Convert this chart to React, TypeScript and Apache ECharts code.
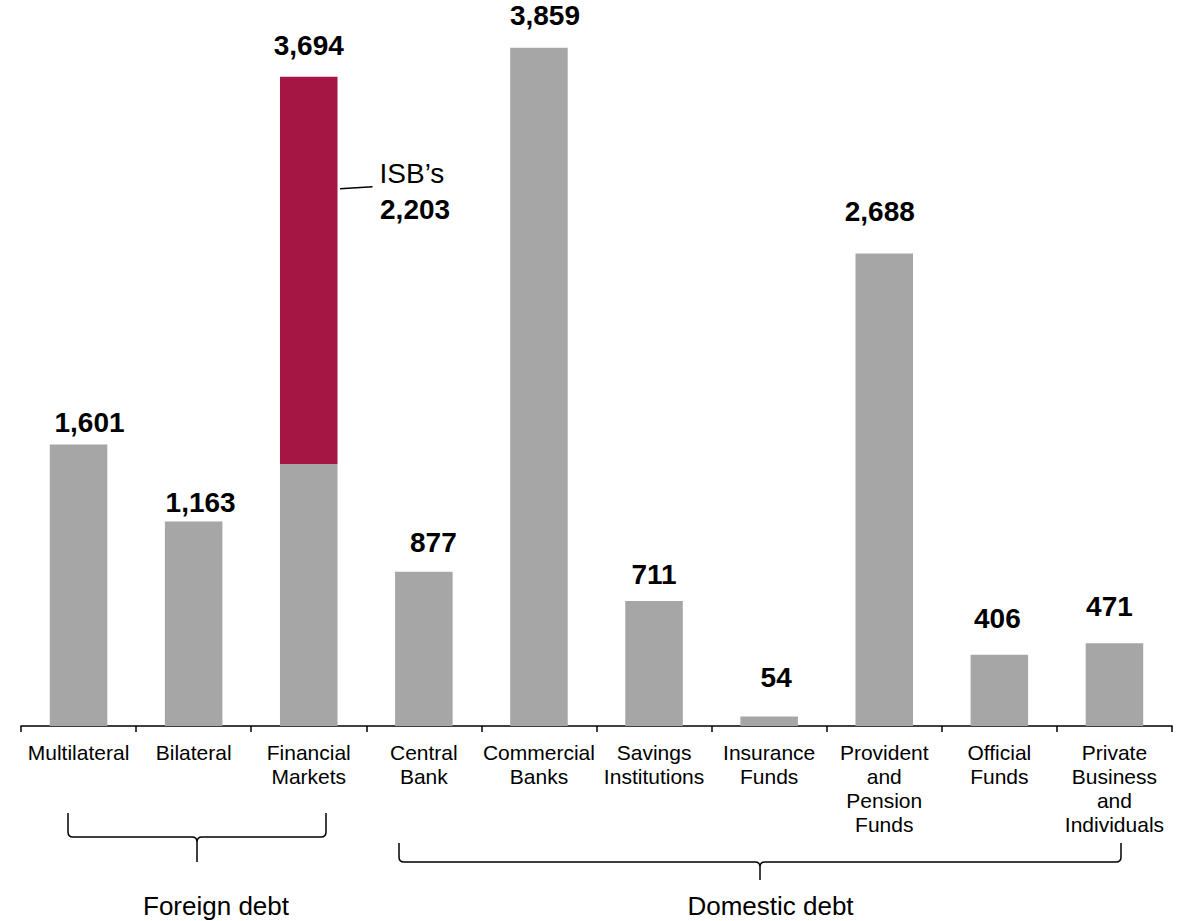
import React, { useEffect, useRef } from "react";
import * as echarts from "echarts";

// Government debt by holder
const categories = [
  "Multilateral",
  "Bilateral",
  "Financial Markets",
  "Central Bank",
  "Commercial Banks",
  "Savings Institutions",
  "Insurance Funds",
  "Provident and Pension Funds",
  "Official Funds",
  "Private Business and Individuals",
];
const totalDebt = [1601, 1163, 3694, 877, 3859, 711, 54, 2688, 406, 471];
const isbDebt = [0, 0, 2203, 0, 0, 0, 0, 0, 0, 0];
const isbLabel = "ISB\u2019s";
const groupNames = ["Foreign debt", "Domestic debt"];

// hand-placed nudges for the value labels above each bar [dx, dy]
const valueLabelNudge: [number, number][] = [
  [11, -8.5],
  [7, -5],
  [0, -17],
  [9.5, -15],
  [6, -18.5],
  [0, -12.5],
  [7, -25],
  [-4.5, -28],
  [-2, -22],
  [-5, -23],
];

const FONT = "Arial, 'Liberation Sans', Helvetica, sans-serif";
const GREY = "#A6A6A6";
const CRIMSON = "#A51645";

// curly brace path opening upward, tip pointing down
function bracePath(xL: number, xR: number, xM: number, yTop: number, yLine: number, yTip: number, r: number) {
  return [
    `M${xL},${yTop}`,
    `L${xL},${yLine - r}`,
    `Q${xL},${yLine} ${xL + r},${yLine}`,
    `L${xM - r},${yLine}`,
    `Q${xM},${yLine} ${xM},${yLine + r}`,
    `L${xM},${yTip}`,
    `M${xM},${yLine + r}`,
    `Q${xM},${yLine} ${xM + r},${yLine}`,
    `L${xR - r},${yLine}`,
    `Q${xR},${yLine} ${xR},${yLine - r}`,
    `L${xR},${yTop}`,
  ].join(" ");
}

echarts.graphic.registerShape(
  "foreignBrace",
  echarts.graphic.extendPath(bracePath(68, 326, 197, 813, 837, 862, 5), {})
);
echarts.graphic.registerShape(
  "domesticBrace",
  echarts.graphic.extendPath(bracePath(399, 1121, 760, 843, 862, 880, 5), {})
);

export default function App() {
  const ref = useRef<HTMLDivElement>(null);

  useEffect(() => {
    if (!ref.current) return;
    const chart = echarts.init(ref.current, undefined, { renderer: "svg" });

    const fmt = (v: number) => v.toLocaleString("en-US");

    const greyData = categories.map((_, i) => ({
      value: totalDebt[i] - isbDebt[i],
      label: {
        show: isbDebt[i] === 0,
        offset: valueLabelNudge[i],
      },
    }));
    const isbData = categories.map((_, i) =>
      isbDebt[i] > 0
        ? { value: isbDebt[i], label: { show: true, offset: valueLabelNudge[i] } }
        : { value: "-", label: { show: false } }
    );

    const valueLabel = {
      position: "top" as const,
      distance: 0,
      color: "#000",
      fontFamily: FONT,
      fontWeight: "bold" as const,
      fontSize: 28,
      lineHeight: 28,
      formatter: (p: any) => fmt(totalDebt[p.dataIndex]),
    };

    chart.setOption({
      animation: false,
      backgroundColor: "#fff",
      grid: { left: 21, right: 13, top: 23, bottom: 195 },
      xAxis: {
        type: "category",
        data: categories,
        axisLine: { lineStyle: { color: "#000", width: 1.5 } },
        axisTick: { show: true, length: 6, lineStyle: { color: "#000", width: 1.5 } },
        axisLabel: {
          interval: 0,
          margin: 14,
          color: "#000",
          fontFamily: FONT,
          fontSize: 21,
          lineHeight: 24,
          formatter: (v: string) => v.split(" ").join("\n"),
        },
      },
      yAxis: {
        type: "value",
        min: 0,
        max: 4000,
        show: false,
        splitLine: { show: false },
      },
      series: [
        {
          name: "Other holdings",
          type: "bar",
          stack: "debt",
          barWidth: "50%",
          itemStyle: { color: GREY },
          label: valueLabel,
          data: greyData,
        },
        {
          name: isbLabel,
          type: "bar",
          stack: "debt",
          barWidth: "50%",
          itemStyle: { color: CRIMSON },
          label: valueLabel,
          data: isbData,
        },
      ],
    });

    // annotation for the ISB segment and the foreign / domestic braces
    const isbIndex = isbDebt.findIndex((v) => v > 0);
    const cx = chart.convertToPixel({ xAxisIndex: 0 }, categories[isbIndex]) as number;
    const catWidth = (1185 - 21 - 13) / categories.length;
    const barRight = cx + catWidth / 4;

    chart.setOption({
      graphic: [
        {
          type: "line",
          shape: { x1: barRight + 2.5, y1: 188.7, x2: barRight + 35, y2: 186.7 },
          style: { stroke: "#000", lineWidth: 1.5 },
        },
        {
          type: "text",
          x: barRight + 42,
          y: 159.5,
          style: {
            text: isbLabel,
            fill: "#000",
            font: `28px ${FONT}`,
            textAlign: "left",
            textVerticalAlign: "top",
          },
        },
        {
          type: "text",
          x: barRight + 42.5,
          y: 195.5,
          style: {
            text: fmt(isbDebt[isbIndex]),
            fill: "#000",
            font: `bold 28px ${FONT}`,
            textAlign: "left",
            textVerticalAlign: "top",
          },
        },
        {
          type: "foreignBrace",
          style: { fill: "none", stroke: "#000", lineWidth: 1.5 },
        },
        {
          type: "domesticBrace",
          style: { fill: "none", stroke: "#000", lineWidth: 1.5 },
        },
        {
          type: "text",
          x: 216,
          y: 892.5,
          style: {
            text: groupNames[0],
            fill: "#000",
            font: `26px ${FONT}`,
            textAlign: "center",
            textVerticalAlign: "top",
          },
        },
        {
          type: "text",
          x: 770.5,
          y: 893,
          style: {
            text: groupNames[1],
            fill: "#000",
            font: `26px ${FONT}`,
            textAlign: "center",
            textVerticalAlign: "top",
          },
        },
      ],
    });

    return () => chart.dispose();
  }, []);

  return (
    <div
      ref={ref}
      style={{ position: "absolute", left: 0, top: 0, width: 1185, height: 921 }}
    />
  );
}
